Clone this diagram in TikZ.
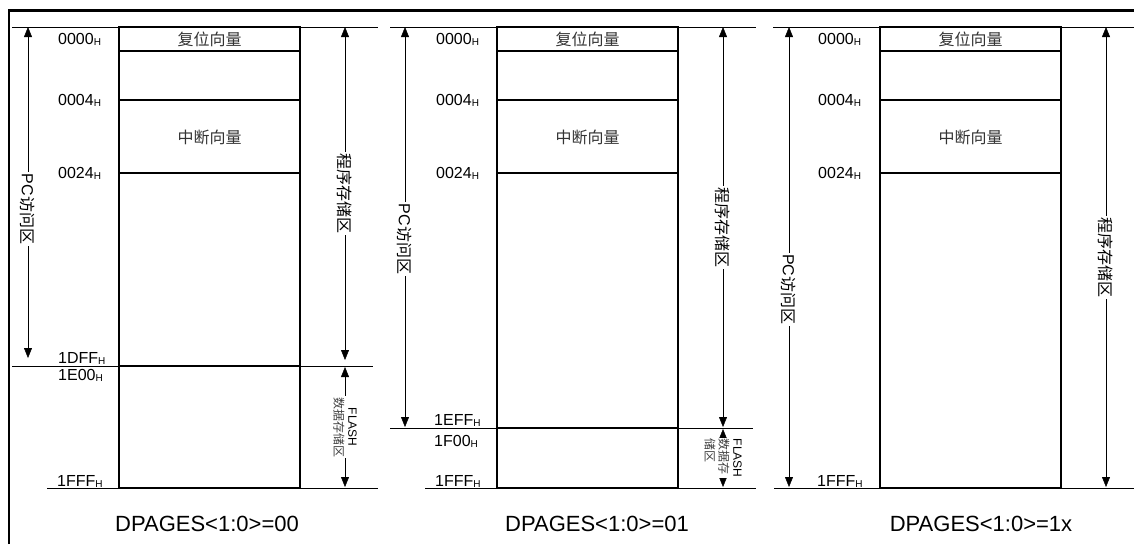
\documentclass[tikz,border=0pt]{standalone}
\usepackage{fontspec}
\setmainfont{Liberation Sans}
\newfontfamily\cjk{Noto Sans CJK SC}
\usetikzlibrary{arrows.meta}
\newcommand{\hsub}{\raisebox{-1pt}{\fontsize{10}{10}\selectfont H}}

\begin{document}
\begin{tikzpicture}[x=1pt,y=-1pt,>={Triangle[width=8pt,length=10pt]},
 rule/.style={line width=0.8pt},
 mem/.style={line width=1.4pt},
 addr/.style={anchor=base west,inner sep=0pt,font=\fontsize{16}{16}\selectfont},
 zone/.style={font=\cjk\fontsize{16}{16}\selectfont,text=black!80},
 span/.style={fill=white,rotate=-90,inner sep=1.5pt,font=\fontsize{16}{16}\selectfont},
 flash/.style={fill=white,rotate=-90,inner sep=1pt,font=\fontsize{12}{14}\selectfont},
 pagecap/.style={font=\fontsize{22}{22}\selectfont}]
\useasboundingbox (0,0) rectangle (1134,544);
\draw[line width=2.4pt] (9,544) -- (9,10.5) -- (1134,10.5);

% DPAGES = 00
\draw[rule] (12,27) -- (378,27);
\draw[rule] (12,366) -- (373,366);
\draw[rule] (47,488) -- (378,488);
\draw[mem] (119,27) rectangle (300,488);
\draw[mem] (119,51) -- (300,51) (119,100) -- (300,100) (119,173) -- (300,173) (119,366) -- (300,366);
\node[zone] (rst1) at (209.5,39) {复位向量};
\node[zone] (int1) at (209.5,137) {中断向量};
\node[addr] (a1a) at (58,44) {0000\hsub};
\node[addr] (a1b) at (58,105) {0004\hsub};
\node[addr] (a1c) at (58,178) {0024\hsub};
\node[addr] (a1d) at (58,363) {1DFF\hsub};
\node[addr] (a1e) at (58,380) {1E00\hsub};
\node[addr] (a1f) at (57,486) {1FFF\hsub};
\coordinate (pc1t) at (28,27);
\coordinate (pc1b) at (28,358);
\coordinate (pr1t) at (345,27);
\coordinate (pr1b) at (345,360);
\coordinate (fl1t) at (345,367);
\coordinate (fl1b) at (345,487);
\draw[<->] (pc1t) -- node[span,pos=0.55] (pc1) {PC{\cjk 访问区}} (pc1b);
\draw[<->] (pr1t) -- node[span] (pr1) {\cjk 程序存储区} (pr1b);
\draw[<->] (fl1t) -- node[flash,align=center] (fl1) {FLASH\\{\cjk\color{black!75}数据存储区}} (fl1b);
\node[pagecap] (cap1) at (207,524) {DPAGES<1:0>=00};

% DPAGES = 01
\draw[rule] (390,27) -- (756,27);
\draw[rule] (390,428) -- (753,428);
\draw[rule] (425,488) -- (756,488);
\draw[mem] (497,27) rectangle (678,488);
\draw[mem] (497,51) -- (678,51) (497,100) -- (678,100) (497,173) -- (678,173) (497,428) -- (678,428);
\node[zone] (rst2) at (587.5,39) {复位向量};
\node[zone] (int2) at (587.5,137) {中断向量};
\node[addr] (a2a) at (436,44) {0000\hsub};
\node[addr] (a2b) at (436,105) {0004\hsub};
\node[addr] (a2c) at (436,178) {0024\hsub};
\node[addr] (a2d) at (434,425) {1EFF\hsub};
\node[addr] (a2e) at (434,446) {1F00\hsub};
\node[addr] (a2f) at (435,486) {1FFF\hsub};
\coordinate (pc2t) at (405,27);
\coordinate (pc2b) at (405,427);
\coordinate (pr2t) at (723,27);
\coordinate (pr2b) at (723,427);
\coordinate (fl2t) at (723,429);
\coordinate (fl2b) at (723,487);
\draw[<->] (pc2t) -- node[span,pos=0.53] (pc2) {PC{\cjk 访问区}} (pc2b);
\draw[<->] (pr2t) -- node[span] (pr2) {\cjk 程序存储区} (pr2b);
\draw[<->] (fl2t) -- node[flash,align=left] (fl2) {FLASH\\{\cjk\color{black!75}数据存}\\{\cjk\color{black!75}储区}} (fl2b);
\node[pagecap] (cap2) at (597,524) {DPAGES<1:0>=01};

% DPAGES = 1x
\draw[rule] (773,27) -- (1134,27);
\draw[rule] (774,488) -- (1134,488);
\draw[mem] (880,27) rectangle (1061,488);
\draw[mem] (880,51) -- (1061,51) (880,100) -- (1061,100) (880,173) -- (1061,173);
\node[zone] (rst3) at (970.5,39) {复位向量};
\node[zone] (int3) at (970.5,137) {中断向量};
\node[addr] (a3a) at (818,44) {0000\hsub};
\node[addr] (a3b) at (818,105) {0004\hsub};
\node[addr] (a3c) at (818,178) {0024\hsub};
\node[addr] (a3f) at (817,486) {1FFF\hsub};
\coordinate (pc3t) at (789,27);
\coordinate (pc3b) at (789,487);
\coordinate (pr3t) at (1106,27);
\coordinate (pr3b) at (1106,487);
\draw[<->] (pc3t) -- node[span,pos=0.57] (pc3) {PC{\cjk 访问区}} (pc3b);
\draw[<->] (pr3t) -- node[span] (pr3) {\cjk 程序存储区} (pr3b);
\node[pagecap] (cap3) at (981,524) {DPAGES<1:0>=1x};
\end{tikzpicture}
\end{document}
